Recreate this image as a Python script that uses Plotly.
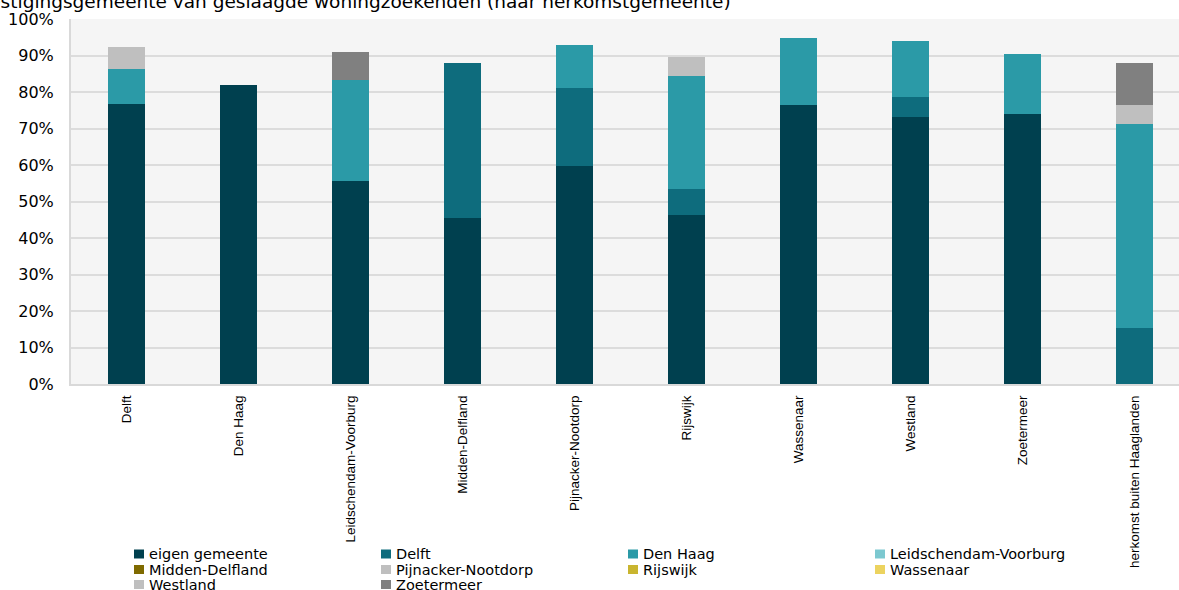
import plotly.graph_objects as go

# ---- data (share of successful home seekers, fraction) ----
categories = ["Delft", "Den Haag", "Leidschendam-Voorburg", "Midden-Delfland",
              "Pijnacker-Nootdorp", "Rijswijk", "Wassenaar", "Westland",
              "Zoetermeer", "herkomst buiten Haaglanden"]

eigen_gemeente        = [0.767, 0.819, 0.556, 0.455, 0.597, 0.463, 0.764, 0.732, 0.740, 0.000]
delft                 = [0.000, 0.000, 0.000, 0.424, 0.214, 0.071, 0.000, 0.054, 0.000, 0.153]
den_haag              = [0.096, 0.000, 0.278, 0.000, 0.118, 0.310, 0.184, 0.154, 0.164, 0.559]
leidschendam_voorburg = [0.000, 0.000, 0.000, 0.000, 0.000, 0.000, 0.000, 0.000, 0.000, 0.000]
midden_delfland       = [0.000, 0.000, 0.000, 0.000, 0.000, 0.000, 0.000, 0.000, 0.000, 0.000]
pijnacker_nootdorp    = [0.060, 0.000, 0.000, 0.000, 0.000, 0.000, 0.000, 0.000, 0.000, 0.000]
rijswijk              = [0.000, 0.000, 0.000, 0.000, 0.000, 0.000, 0.000, 0.000, 0.000, 0.000]
wassenaar             = [0.000, 0.000, 0.000, 0.000, 0.000, 0.000, 0.000, 0.000, 0.000, 0.000]
westland              = [0.000, 0.000, 0.000, 0.000, 0.000, 0.052, 0.000, 0.000, 0.000, 0.052]
zoetermeer            = [0.000, 0.000, 0.076, 0.000, 0.000, 0.000, 0.000, 0.000, 0.000, 0.115]

series_names = ["eigen gemeente", "Delft", "Den Haag", "Leidschendam-Voorburg",
                "Midden-Delfland", "Pijnacker-Nootdorp", "Rijswijk", "Wassenaar",
                "Westland", "Zoetermeer"]
series_values = [eigen_gemeente, delft, den_haag, leidschendam_voorburg,
                 midden_delfland, pijnacker_nootdorp, rijswijk, wassenaar,
                 westland, zoetermeer]
series_colors = ["#00404f", "#0e6c7d", "#2b9aa7", "#7cc8d0", "#7f6a00",
                 "#bfbfbf", "#c9b52f", "#ecd35f", "#bfbfbf", "#808080"]

title_text = "Vestigingsgemeente van geslaagde woningzoekenden (naar herkomstgemeente)"

# ---- layout geometry ----
W, H = 1179, 590
ML, MR, MT, MB = 71, 0, 19, 206
PW, PH = W - ML - MR, H - MT - MB

def fx(px):
    return (px - ML) / PW

def fy(py):
    return (H - MB - py) / PH

fig = go.Figure()
for name, vals, col in zip(series_names, series_values, series_colors):
    fig.add_trace(go.Bar(
        x=categories, y=vals, name=name,
        marker=dict(color=col, line=dict(width=0)),
        width=0.33,
    ))

# legend built as text entries (4 columns, row-major)
col_x = [134, 381, 628, 875]
row_y = [554, 569.5, 584.5]
shapes = []
annotations = []
for i, (name, col) in enumerate(zip(series_names, series_colors)):
    r, c = divmod(i, 4)
    sx, sy = col_x[c], row_y[r]
    shapes.append(dict(type="rect", xref="paper", yref="paper",
                       x0=fx(sx), x1=fx(sx + 10), y0=fy(sy + 4.5), y1=fy(sy - 4.5),
                       fillcolor=col, line=dict(width=0), layer="above"))
    annotations.append(dict(text=name, xref="paper", yref="paper",
                            x=fx(sx + 14), y=fy(sy), xanchor="left", yanchor="middle",
                            showarrow=False, borderpad=0,
                            font=dict(family="DejaVu Sans", size=14.5, color="#000000")))

annotations.append(dict(text=title_text, xref="paper", yref="paper",
                        x=fx(-24), y=fy(14), xanchor="left", yanchor="bottom",
                        showarrow=False,
                        font=dict(family="DejaVu Sans", size=18.5, color="#000000")))

fig.update_layout(
    width=W, height=H,
    margin=dict(l=ML, r=MR, t=MT, b=MB, pad=0),
    barmode="stack",
    showlegend=False,
    paper_bgcolor="#ffffff",
    plot_bgcolor="#f5f5f5",
    shapes=shapes,
    annotations=annotations,
)
fig.update_xaxes(
    type="category", range=[-0.5, 9.4], tickangle=-90,
    tickfont=dict(family="Liberation Sans, Arial", size=13.5, color="#000000"),
    showgrid=False, showline=True, linecolor="#d9d9d9", linewidth=2,
    ticks="", ticklabelstandoff=4, zeroline=False,
)
fig.update_yaxes(
    range=[0, 1], dtick=0.1, tickformat=".0%",
    tickfont=dict(family="DejaVu Sans", size=16, color="#000000"),
    showgrid=True, gridcolor="#dcdcdc", gridwidth=2,
    showline=True, linecolor="#d9d9d9", linewidth=2,
    ticks="", ticklabelstandoff=12, zeroline=False,
)

fig.write_html("out.html")
